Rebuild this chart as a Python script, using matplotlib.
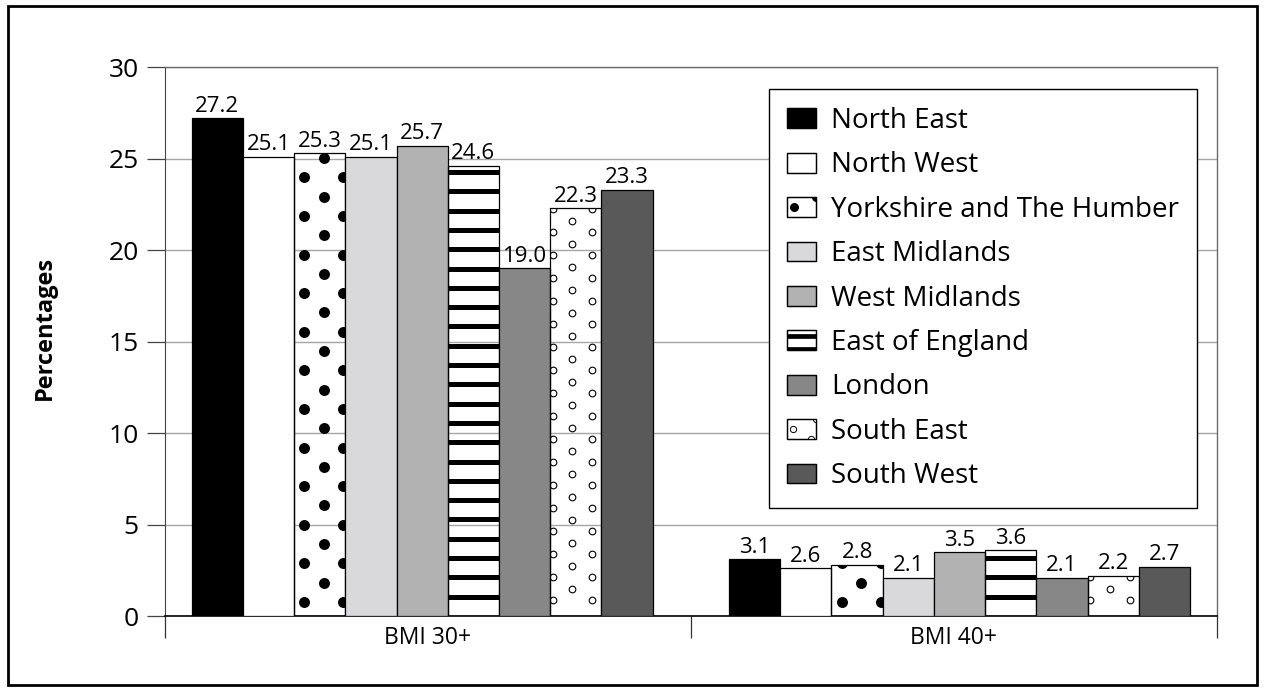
import numpy as np
import matplotlib
matplotlib.use("Agg")
import matplotlib.pyplot as plt
from matplotlib.patches import Rectangle, Patch
from matplotlib.lines import Line2D
from matplotlib.legend_handler import HandlerBase

plt.rcParams["font.family"] = ["Open Sans", "DejaVu Sans"]

# Prevalence of obesity by region, per cent
categories = ["BMI 30+", "BMI 40+"]
regions = ["North East", "North West", "Yorkshire and The Humber", "East Midlands",
           "West Midlands", "East of England", "London", "South East", "South West"]
bmi30 = [27.2, 25.1, 25.3, 25.1, 25.7, 24.6, 19.0, 22.3, 23.3]
bmi40 = [3.1, 2.6, 2.8, 2.1, 3.5, 3.6, 2.1, 2.2, 2.7]

# fill of each region: a colour or a pattern name
fills = ["black", "white", "dots", "#d9d9db", "#b2b2b2", "stripes", "#878787", "circles", "#595959"]

XMIN, XMAX = -0.4787, 1.4787
BW = 0.0953


def draw_pattern(ax, bar, kind):
    x0, w, h = bar.get_x(), bar.get_width(), bar.get_height()
    arts = []
    if kind == "dots":
        xs, ys = [], []
        for j, y in enumerate(np.arange(0.765, h + 0.6, 1.055)):
            for c in ([0.2, 0.96] if j % 2 == 0 else [0.58]):
                xs.append(x0 + c * w)
                ys.append(y)
        arts += ax.plot(xs, ys, "o", ms=7.9, color="black", mew=0, zorder=2.5)
    elif kind == "circles":
        xs, ys = [], []
        for j, y in enumerate(np.arange(0.852, h + 0.6, 0.6285)):
            for c in ([0.05, 0.82] if j % 2 == 0 else [0.43]):
                xs.append(x0 + c * w)
                ys.append(y)
        arts += ax.plot(xs, ys, "o", ms=4.8, mfc="white", mec="black", mew=0.8, zorder=2.5)
    elif kind == "stripes":
        for y in np.arange(1.055, h, 1.055):
            arts += ax.plot([x0, x0 + w], [y, y], color="black", lw=3.6,
                            solid_capstyle="butt", zorder=2.5)
    for a in arts:
        a.set_clip_path(bar)


class PatternHandler(HandlerBase):
    def create_artists(self, legend, orig_handle, xdescent, ydescent,
                       width, height, fontsize, trans):
        kind = orig_handle.get_gid()
        x0, y0 = -xdescent, -ydescent
        face = "white" if kind in ("dots", "stripes", "circles") else orig_handle.get_facecolor()
        rect = Rectangle((x0, y0), width, height, facecolor=face, edgecolor="black",
                         lw=0.9, transform=trans)
        arts = [rect]
        if kind == "dots":
            arts.append(Line2D([x0 + 0.25 * width, x0 + width], [y0 + 0.5 * height, y0 + height],
                               ls="", marker="o", ms=6.5, color="black", mew=0, transform=trans))
        elif kind == "circles":
            arts.append(Line2D([x0 + 0.2 * width, x0 + width, x0 + 0.85 * width],
                               [y0 + 0.5 * height, y0 + height, y0],
                               ls="", marker="o", ms=4.5, mfc="white", mec="black",
                               mew=0.7, transform=trans))
        elif kind == "stripes":
            for yy in (0.72, 0.06):
                arts.append(Line2D([x0, x0 + width], [y0 + yy * height] * 2, color="black",
                                   lw=3.4, solid_capstyle="butt", transform=trans))
        for a in arts[1:]:
            a.set_clip_path(rect)
        # outline on top of the pattern
        arts.append(Rectangle((x0, y0), width, height, facecolor="none", edgecolor="black",
                              lw=0.9, transform=trans))
        return arts


fig = plt.figure(figsize=(12.64, 6.91), dpi=100)
ax = fig.add_axes([0.1305, 0.1085, 0.9626 - 0.1305, 0.9030 - 0.1085])
ax.set_axisbelow(True)

x = np.arange(len(categories))
for i, name in enumerate(regions):
    vals = [bmi30[i], bmi40[i]]
    kind = fills[i]
    patterned = kind in ("dots", "stripes", "circles")
    bars = ax.bar(x + (i - 4) * BW, vals, BW, facecolor="none" if patterned else kind,
                  edgecolor="black", lw=0.9, zorder=3)
    if patterned:
        for b in bars:
            draw_pattern(ax, b, kind)
    ax.bar_label(bars, fmt="%.1f", padding=1, fontsize=16, zorder=4)

ax.set_xlim(XMIN, XMAX)
ax.set_ylim(0, 30)
ax.set_yticks(np.arange(0, 31, 5))
ax.tick_params(axis="y", length=13, width=0.9, color="#444444", labelsize=19, pad=6)
ax.yaxis.grid(True, color="#a6a6a6", lw=1)

ax.set_xticks([XMIN, 0.5, XMAX])
ax.set_xticklabels([])
ax.tick_params(axis="x", which="major", length=15.5, width=0.9, color="#333333")
ax.set_xticks([(XMIN + 0.5) / 2, (XMAX + 0.5) / 2], minor=True)
ax.set_xticklabels(categories, minor=True)
ax.tick_params(axis="x", which="minor", length=0, labelsize=16.5, pad=7)

ax.set_ylabel("Percentages", fontsize=17, fontweight="bold")
ax.yaxis.set_label_coords(-0.103, 0.525)

for s in ("top", "right"):
    ax.spines[s].set_color("#6b6b6b")
    ax.spines[s].set_linewidth(1)
ax.spines["left"].set_color("#444444")
ax.spines["bottom"].set_color("black")
ax.spines["bottom"].set_linewidth(1.2)

handles = []
for name, kind in zip(regions, fills):
    h = Patch(facecolor="white" if kind in ("dots", "stripes", "circles") else kind,
              edgecolor="black", label=name)
    h.set_gid(kind)
    handles.append(h)

leg = ax.legend(handles=handles, loc="upper right",
                bbox_to_anchor=(1197 / 1264, 1 - 89 / 691), bbox_transform=fig.transFigure,
                fontsize=20, frameon=True, fancybox=False, framealpha=1,
                edgecolor="black", handlelength=1.04, handleheight=0.72,
                handletextpad=0.55, labelspacing=0.59, borderpad=0.65, borderaxespad=0,
                handler_map={Patch: PatternHandler()})
leg.get_frame().set_linewidth(1)
leg.set_zorder(10)

# outer frame round the whole chart
fig.add_artist(Rectangle((8 / 1264, 6 / 691), 1249 / 1264, 679 / 691,
                         transform=fig.transFigure, fill=False, edgecolor="black", lw=2))

fig.savefig("out.png", dpi=100)
